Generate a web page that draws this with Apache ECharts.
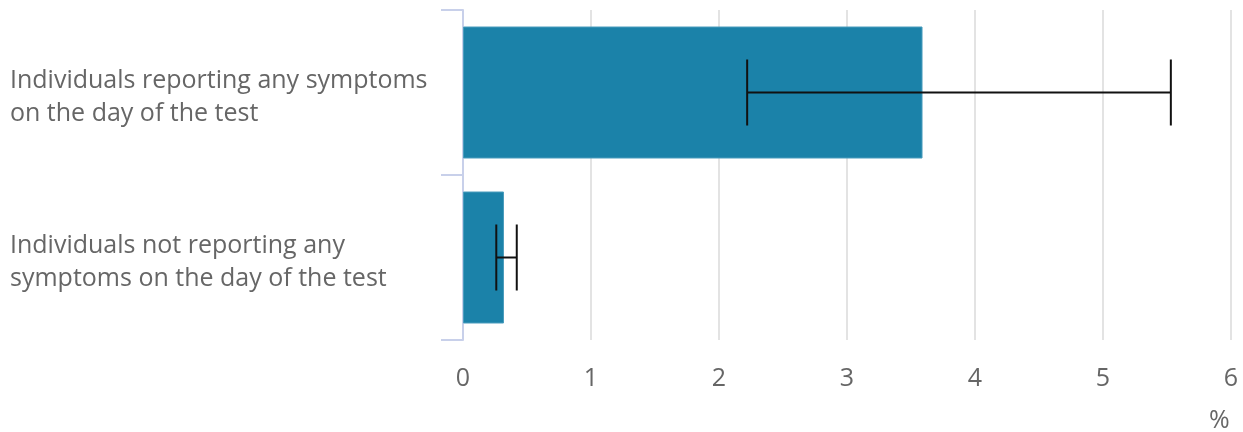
<!DOCTYPE html>
<html>
<head>
<meta charset="utf-8">
<script src="https://cdn.jsdelivr.net/npm/echarts@6/dist/echarts.min.js"></script>
<style>
html,body{margin:0;padding:0;background:#fff;}
#chart{width:1243px;height:432px;}
</style>
</head>
<body>
<div id="chart"></div>
<script>
var categories = [
  "Individuals reporting any symptoms\non the day of the test",
  "Individuals not reporting any\nsymptoms on the day of the test"
];
var values = [3.59, 0.32];
var lower = [2.22, 0.26];
var upper = [5.53, 0.42];
var xTicks = [0, 1, 2, 3, 4, 5, 6];

var font = "'Open Sans', sans-serif";
var chart = echarts.init(document.getElementById('chart'));
var errData = categories.map(function (c, i) { return [i, lower[i], upper[i]]; });

chart.setOption({
  animation: false,
  grid: { left: 463, right: 12, top: 10, bottom: 92, containLabel: false },
  xAxis: {
    type: 'value',
    min: xTicks[0],
    max: xTicks[xTicks.length - 1],
    interval: 1,
    axisLine: { show: false },
    axisTick: { show: false },
    splitLine: { show: true, lineStyle: { color: '#e3e3e3', width: 2 } },
    axisLabel: { color: '#666', fontSize: 25, fontFamily: font, margin: 26 }
  },
  yAxis: {
    type: 'category',
    data: categories,
    inverse: true,
    axisLine: { show: true, lineStyle: { color: '#c8d0ea', width: 2 } },
    axisTick: { show: true, length: 22, lineStyle: { color: '#c8d0ea', width: 2 } },
    axisLabel: {
      margin: 453,
      align: 'left',
      formatter: function (v) {
        return '{s|}\n' + v.split('\n').map(function (l) { return '{t|' + l + '}'; }).join('\n');
      },
      rich: {
        s: { lineHeight: 9, fontSize: 1 },
        t: { color: '#666', fontSize: 25, fontFamily: font, lineHeight: 33 }
      }
    }
  },
  graphic: [{
    type: 'text', left: 1209, top: 408,
    style: { text: '%', fill: '#666', fontSize: 25, fontFamily: font }
  }],
  series: [{
    type: 'bar',
    data: values,
    barCategoryGap: '20%',
    itemStyle: { color: '#1b82a9', borderColor: '#4a9cbd', borderWidth: 1 }
  }, {
    type: 'custom',
    data: errData,
    z: 10,
    renderItem: function (params, api) {
      var idx = api.value(0);
      var lo = api.coord([api.value(1), idx]);
      var hi = api.coord([api.value(2), idx]);
      var half = api.size([0, 1])[1] * 0.2;
      var st = { stroke: '#111', lineWidth: 2 };
      return {
        type: 'group',
        children: [
          { type: 'line', shape: { x1: lo[0], y1: lo[1], x2: hi[0], y2: hi[1] }, style: st },
          { type: 'line', shape: { x1: lo[0], y1: lo[1] - half, x2: lo[0], y2: lo[1] + half }, style: st },
          { type: 'line', shape: { x1: hi[0], y1: hi[1] - half, x2: hi[0], y2: hi[1] + half }, style: st }
        ]
      };
    },
    encode: { x: [1, 2], y: 0 }
  }]
});
</script>
</body>
</html>
